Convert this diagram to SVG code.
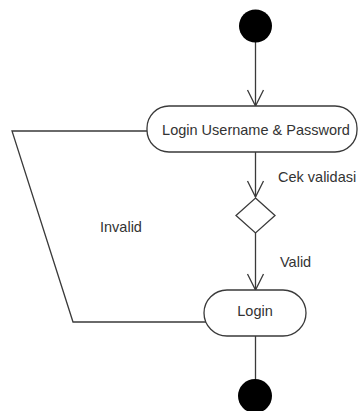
<svg xmlns="http://www.w3.org/2000/svg" width="358" height="411" viewBox="0 0 358 411">
<style>
.ln{fill:none;stroke:#3a3a3a;stroke-width:1.3}
.box{fill:#fff;stroke:#3a3a3a;stroke-width:1.3}
.t{font-family:"Liberation Sans",Arial,sans-serif;font-size:14.5px;fill:#333}
.dot{fill:#000}
</style>
<defs>
<marker id="arr" viewBox="0 0 20 20" refX="18" refY="10" markerWidth="20" markerHeight="20" markerUnits="userSpaceOnUse" orient="auto">
<path d="M2,2 L18,10 L2,18" fill="none" stroke="#3a3a3a" stroke-width="1.3"/>
</marker>
</defs>
<rect width="358" height="411" fill="#fff"/>
<g id="connectors">
<line class="ln" x1="255.5" y1="42" x2="255.5" y2="106" marker-end="url(#arr)"/>
<line class="ln" x1="255.5" y1="152" x2="255.5" y2="197" marker-end="url(#arr)"/>
<line class="ln" x1="255.5" y1="233" x2="255.5" y2="290" marker-end="url(#arr)"/>
<line class="ln" x1="255.5" y1="336" x2="255.5" y2="380"/>
<polyline class="ln" points="206,322 73,322 12,131 147,131"/>
<text class="t" x="278" y="182">Cek validasi</text>
<text class="t" x="280" y="267">Valid</text>
<text class="t" x="100" y="232">Invalid</text>
</g>
<g id="start">
<circle class="dot" cx="255.5" cy="26" r="16.5"/>
</g>
<g id="loginUP">
<rect class="box" x="147" y="106" width="210" height="46" rx="22" ry="22"/>
<text class="t" x="256" y="135" text-anchor="middle">Login Username &amp; Password</text>
</g>
<g id="decision">
<polygon class="box" points="255.5,198 275,215.5 255.5,233 236,215.5"/>
</g>
<g id="login">
<rect class="box" x="204" y="290" width="102" height="46" rx="23" ry="23"/>
<text class="t" x="255" y="316" text-anchor="middle">Login</text>
</g>
<g id="end">
<circle class="dot" cx="255" cy="396" r="17"/>
</g>
</svg>
